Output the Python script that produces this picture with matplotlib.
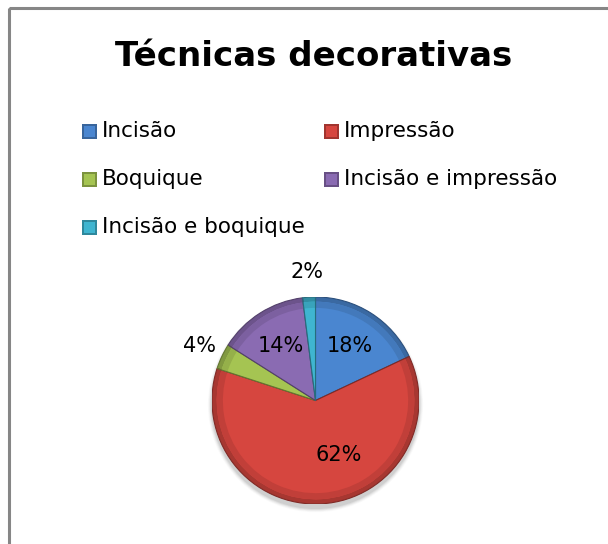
import matplotlib
matplotlib.use("Agg")
import matplotlib.pyplot as plt
import numpy as np
from matplotlib.patches import Rectangle, Wedge, Circle
from matplotlib.colors import to_rgb

TITLE = "Técnicas decorativas"
CATEGORIES = ["Incisão", "Impressão", "Boquique", "Incisão e impressão", "Incisão e boquique"]
SHARES = [18, 62, 4, 14, 2]
COLORS = ["#4A86D0", "#D6463F", "#A5C452", "#8A6BB2", "#3FB5D0"]

W, H = 608, 544
FONT = "DejaVu Sans"


def shade(color, factor):
    r, g, b = to_rgb(color)
    return (r * factor, g * factor, b * factor)


fig = plt.figure(figsize=(W / 100, H / 100), dpi=100)
fig.patch.set_facecolor("white")

# pixel overlay for frame, title and legend
bg = fig.add_axes([0, 0, 1, 1])
bg.set_xlim(0, W)
bg.set_ylim(H, 0)
bg.axis("off")
bg.add_patch(Rectangle((9, 7.5), W + 20, H + 20, fill=False, edgecolor="#868686", linewidth=2.2))
bg.text(314, 56, TITLE, ha="center", va="center", fontsize=24.5, fontweight="bold",
        family=FONT, color="black")

col_x = [82, 324]
row_y = [131, 179, 227]
for i, (name, color) in enumerate(zip(CATEGORIES, COLORS)):
    x = col_x[i % 2]
    y = row_y[i // 2]
    bg.add_patch(Rectangle((x, y - 7.5), 15, 15, facecolor=shade(color, 0.75), edgecolor="none"))
    bg.add_patch(Rectangle((x + 2, y - 5.5), 11, 11, facecolor=color, edgecolor="none"))
    bg.text(x + 20, y, name, ha="left", va="center", fontsize=15.5, family=FONT, color="black")

# pie
cx, cy, r = 315.5, 400.5, 103.5
ax = fig.add_axes([(cx - r) / W, (H - cy - r) / H, 2 * r / W, 2 * r / H])
ax.set_xlim(-1, 1)
ax.set_ylim(-1, 1)
ax.axis("off")

# soft shadow below the pie
for k, a in zip(range(5, 0, -1), [0.02, 0.03, 0.04, 0.05, 0.06]):
    ax.add_patch(Circle((0.0, -0.04), 1 + k * 0.008, facecolor="black", alpha=a,
                        edgecolor="none", clip_on=False))

wedges, _ = ax.pie(SHARES, colors=[shade(c, 0.78) for c in COLORS], startangle=90,
                   counterclock=False, radius=1.0, wedgeprops=dict(linewidth=0),
                   frame=False)
ax.set_xlim(-1, 1)
ax.set_ylim(-1, 1)
for w, c in zip(wedges, COLORS):
    ax.add_patch(Wedge((0, 0), 0.955, w.theta1, w.theta2, facecolor=c, edgecolor="none"))
    ax.add_patch(Wedge((0, 0), 0.955, w.theta1, w.theta2, width=0.06,
                       facecolor=shade(c, 0.9), edgecolor="none"))
    ax.add_patch(Wedge((0, 0), 1.0, w.theta1, w.theta2, facecolor="none",
                       edgecolor=shade(c, 0.6), linewidth=0.8))

total = sum(SHARES)
for w, v in zip(wedges, SHARES):
    mid = np.deg2rad((w.theta1 + w.theta2) / 2)
    dist = 1.24 if v / total < 0.05 else 0.62
    x, y = dist * np.cos(mid), dist * np.sin(mid)
    if v == max(SHARES):
        x, y = 0.22, -0.53
    ax.text(x, y, f"{v}%", ha="center", va="center", fontsize=15, family=FONT,
            color="black", clip_on=False)

fig.savefig("out.png", dpi=100, facecolor="white")
